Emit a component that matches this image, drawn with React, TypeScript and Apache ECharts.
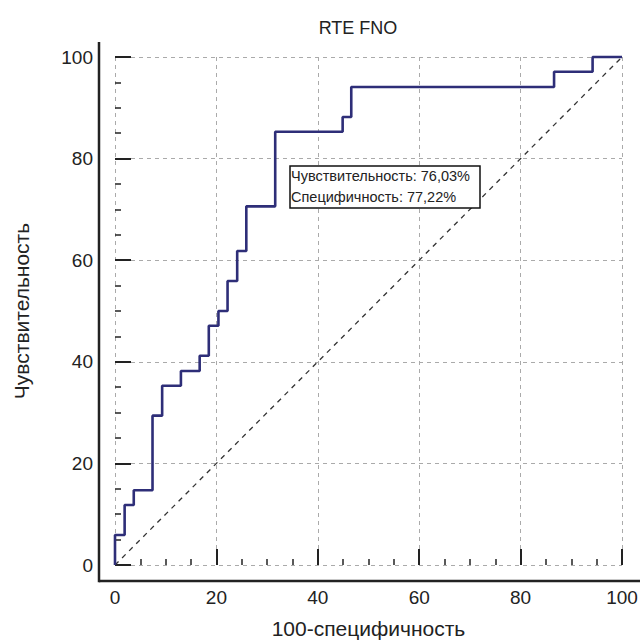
import React, { useEffect, useRef } from "react";
import * as echarts from "echarts";

// ROC curve corner points (100-specificity, sensitivity)
const fpr = [0, 0, 1.9, 3.7, 7.4, 9.3, 13.0, 16.7, 18.5, 20.4, 22.2, 24.1, 25.9, 31.6, 44.9, 46.6, 86.6, 94.2, 100];
const sens = [0, 5.9, 11.8, 14.7, 29.4, 35.3, 38.2, 41.2, 47.1, 50.0, 55.9, 61.8, 70.6, 85.3, 88.2, 94.1, 97.1, 100, 100];
const diagonal = [[0, 0], [100, 100]];

const titleText = "RTE FNO";
const xName = "100-специфичность";
const yName = "Чувствительность";
const annotationLines = ["Чувствительность: 76,03%", "Специфичность: 77,22%"];

const FONT = "'Liberation Sans', Arial, sans-serif";

export default function App() {
  const ref = useRef<HTMLDivElement>(null);
  useEffect(() => {
    if (!ref.current) return;
    const chart = echarts.init(ref.current, null, { renderer: "svg" });
    const gridLeft = 115, gridTop = 57, gridW = 507, gridH = 508;
    const axisX = 99, axisY = 581;
    const curve = fpr.map((x, i) => [x, sens[i]]);
    chart.setOption({
      animation: false,
      backgroundColor: "#ffffff",
      textStyle: { fontFamily: FONT },
      grid: {
        left: gridLeft,
        top: gridTop,
        width: gridW,
        height: gridH,
        containLabel: false,
        outerBoundsMode: "none",
      },
      xAxis: {
        type: "value",
        min: 0,
        max: 100,
        interval: 20,
        offset: axisY - (gridTop + gridH),
        name: xName,
        nameLocation: "middle",
        nameGap: 37,
        nameTextStyle: { fontSize: 21, color: "#222", fontFamily: FONT },
        axisLine: { show: false },
        axisTick: { show: true, inside: true, length: 16, lineStyle: { color: "#222", width: 2 } },
        minorTick: { show: true, splitNumber: 4, length: 6, lineStyle: { color: "#222", width: 1.5 } },
        axisLabel: { fontSize: 19, color: "#222", margin: 7, fontFamily: FONT },
        splitLine: { show: true, lineStyle: { color: "#aaaaaa", width: 1, type: [4, 4] } },
      },
      yAxis: {
        type: "value",
        min: 0,
        max: 100,
        interval: 20,
        offset: gridLeft - axisX,
        name: yName,
        nameLocation: "middle",
        nameGap: 67,
        nameRotate: 90,
        nameTextStyle: { fontSize: 21, color: "#222", fontFamily: FONT },
        axisLine: { show: false },
        axisTick: { show: true, inside: true, length: 16, lineStyle: { color: "#222", width: 2 } },
        minorTick: { show: true, splitNumber: 4, length: 6, lineStyle: { color: "#222", width: 1.5 } },
        axisLabel: { fontSize: 19, color: "#222", margin: 6, fontFamily: FONT },
        splitLine: { show: true, lineStyle: { color: "#aaaaaa", width: 1, type: [4, 4] } },
      },
      series: [
        {
          type: "line",
          data: diagonal,
          symbol: "none",
          clip: false,
          lineStyle: { color: "#333333", width: 1.3, type: [5, 5] },
          silent: true,
          z: 2,
        },
        {
          type: "line",
          data: curve,
          step: "end",
          symbol: "none",
          clip: false,
          lineStyle: { color: "#2e2e78", width: 2.6 },
          z: 3,
        },
      ],
      graphic: [
        {
          type: "text",
          x: 358,
          y: 28,
          style: { text: titleText, font: `18px ${FONT}`, fill: "#222", textAlign: "center", textVerticalAlign: "middle" },
        },
        {
          type: "line",
          z: 50,
          shape: { x1: axisX, y1: axisY, x2: 640, y2: axisY },
          style: { stroke: "#222", lineWidth: 2.5 },
        },
        {
          type: "line",
          z: 50,
          shape: { x1: axisX, y1: axisY + 1.25, x2: axisX, y2: 42 },
          style: { stroke: "#222", lineWidth: 2.5 },
        },
        {
          type: "rect",
          z: 60,
          shape: { x: 290, y: 166, width: 190, height: 42 },
          style: { fill: "#ffffff", stroke: "#111", lineWidth: 1.5 },
        },
        {
          type: "text",
          z: 61,
          x: 291,
          y: 176,
          style: { text: annotationLines[0], font: `14.5px ${FONT}`, fill: "#222", textVerticalAlign: "middle" },
        },
        {
          type: "text",
          z: 61,
          x: 291,
          y: 197,
          style: { text: annotationLines[1], font: `14.5px ${FONT}`, fill: "#222", textVerticalAlign: "middle" },
        },
      ],
    });
    return () => chart.dispose();
  }, []);
  return <div ref={ref} style={{ position: "fixed", left: 0, top: 0, width: 640, height: 642, background: "#fff" }} />;
}
